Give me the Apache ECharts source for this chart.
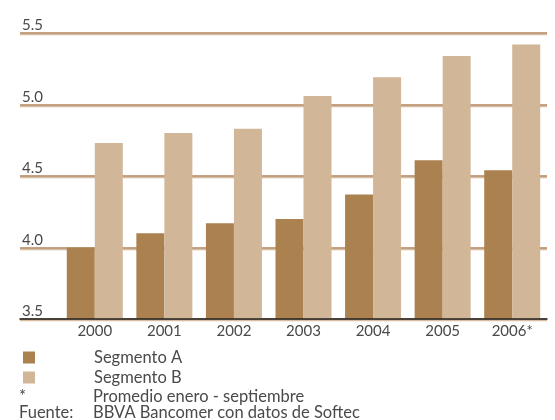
<!DOCTYPE html>
<html>
<head>
<meta charset="utf-8">
<script src="https://cdn.jsdelivr.net/npm/echarts@6/dist/echarts.min.js"></script>
<style>
  html, body { margin: 0; padding: 0; background: #ffffff; }
  #chart { width: 555px; height: 420px; }
</style>
</head>
<body>
<div id="chart"></div>
<script>
// Categories and values per segment
const years = ['2000', '2001', '2002', '2003', '2004', '2005', '2006*'];
const segmentoA = [4.00, 4.10, 4.17, 4.20, 4.37, 4.61, 4.54];
const segmentoB = [4.73, 4.80, 4.83, 5.06, 5.19, 5.34, 5.42];
const seriesNames = ['Segmento A', 'Segmento B'];
const noteLines = [
  ['*', 'Promedio enero - septiembre'],
  ['Fuente:', 'BBVA Bancomer con datos de Softec']
];

const colorA = '#ab8150';
const colorB = '#d1b698';
const textColor = '#4a4a4a';
const font = 'Lato, "Open Sans", sans-serif';

const chart = echarts.init(document.getElementById('chart'), null, { renderer: 'canvas' });

const gridTop = 33;
const gridBottom = 101;

const notes = [];
noteLines.forEach(function (pair, i) {
  const y = 388 + i * 16;
  notes.push({
    type: 'text', left: 19, top: y,
    style: { text: pair[0], fill: textColor, font: '16.5px ' + font }
  });
  notes.push({
    type: 'text', left: 93, top: y,
    style: { text: pair[1], fill: textColor, font: '16.5px ' + font }
  });
});

// One legend block per series, stacked as rows
const legends = seriesNames.map(function (name, i) {
  return {
    data: [name],
    orient: 'vertical', left: 18, top: 344 + i * 20,
    icon: 'rect', itemWidth: 12, itemHeight: 12,
    selectedMode: false,
    textStyle: {
      color: textColor, fontSize: 16.5, fontFamily: font, lineHeight: 16,
      padding: [0, 0, 0, 54]
    }
  };
});

chart.setOption({
  animation: false,
  backgroundColor: '#ffffff',
  grid: [
    { left: 20, right: 8, top: gridTop, bottom: gridBottom },
    { left: 60, right: 8, top: gridTop, bottom: gridBottom }
  ],
  xAxis: [
    {
      gridIndex: 0, type: 'value', min: 0, max: 1, z: 10,
      axisLine: { show: true, onZero: false, lineStyle: { color: '#222222', width: 1.5 } },
      axisTick: { show: false }, axisLabel: { show: false }, splitLine: { show: false }
    },
    {
      gridIndex: 1, type: 'category', data: years,
      axisLine: { show: false }, axisTick: { show: false },
      axisLabel: { color: textColor, fontSize: 15, fontFamily: font, margin: 5 }
    }
  ],
  yAxis: [
    {
      gridIndex: 0, type: 'value', min: 3.5, max: 5.5, interval: 0.5,
      axisLine: { show: false }, axisTick: { show: false },
      axisLabel: {
        inside: true, align: 'left', verticalAlign: 'bottom', margin: 2,
        color: textColor, fontSize: 15, fontFamily: font,
        formatter: function (v) { return v.toFixed(1); }
      },
      splitLine: {
        show: true,
        lineStyle: { color: '#b0835a', width: 1.5, shadowColor: 'rgba(209,182,152,0.9)', shadowOffsetY: 1.5, shadowBlur: 0 }
      }
    },
    {
      gridIndex: 1, type: 'value', min: 3.5, max: 5.5, interval: 0.5, show: false
    }
  ],
  legend: legends,
  series: [
    {
      name: seriesNames[0], type: 'bar', xAxisIndex: 1, yAxisIndex: 1,
      data: segmentoA, barWidth: 28, barGap: '0%',
      itemStyle: { color: colorA }
    },
    {
      name: seriesNames[1], type: 'bar', xAxisIndex: 1, yAxisIndex: 1,
      data: segmentoB, barWidth: 28, barGap: '0%',
      itemStyle: { color: colorB }
    }
  ],
  graphic: notes
});
</script>
</body>
</html>
